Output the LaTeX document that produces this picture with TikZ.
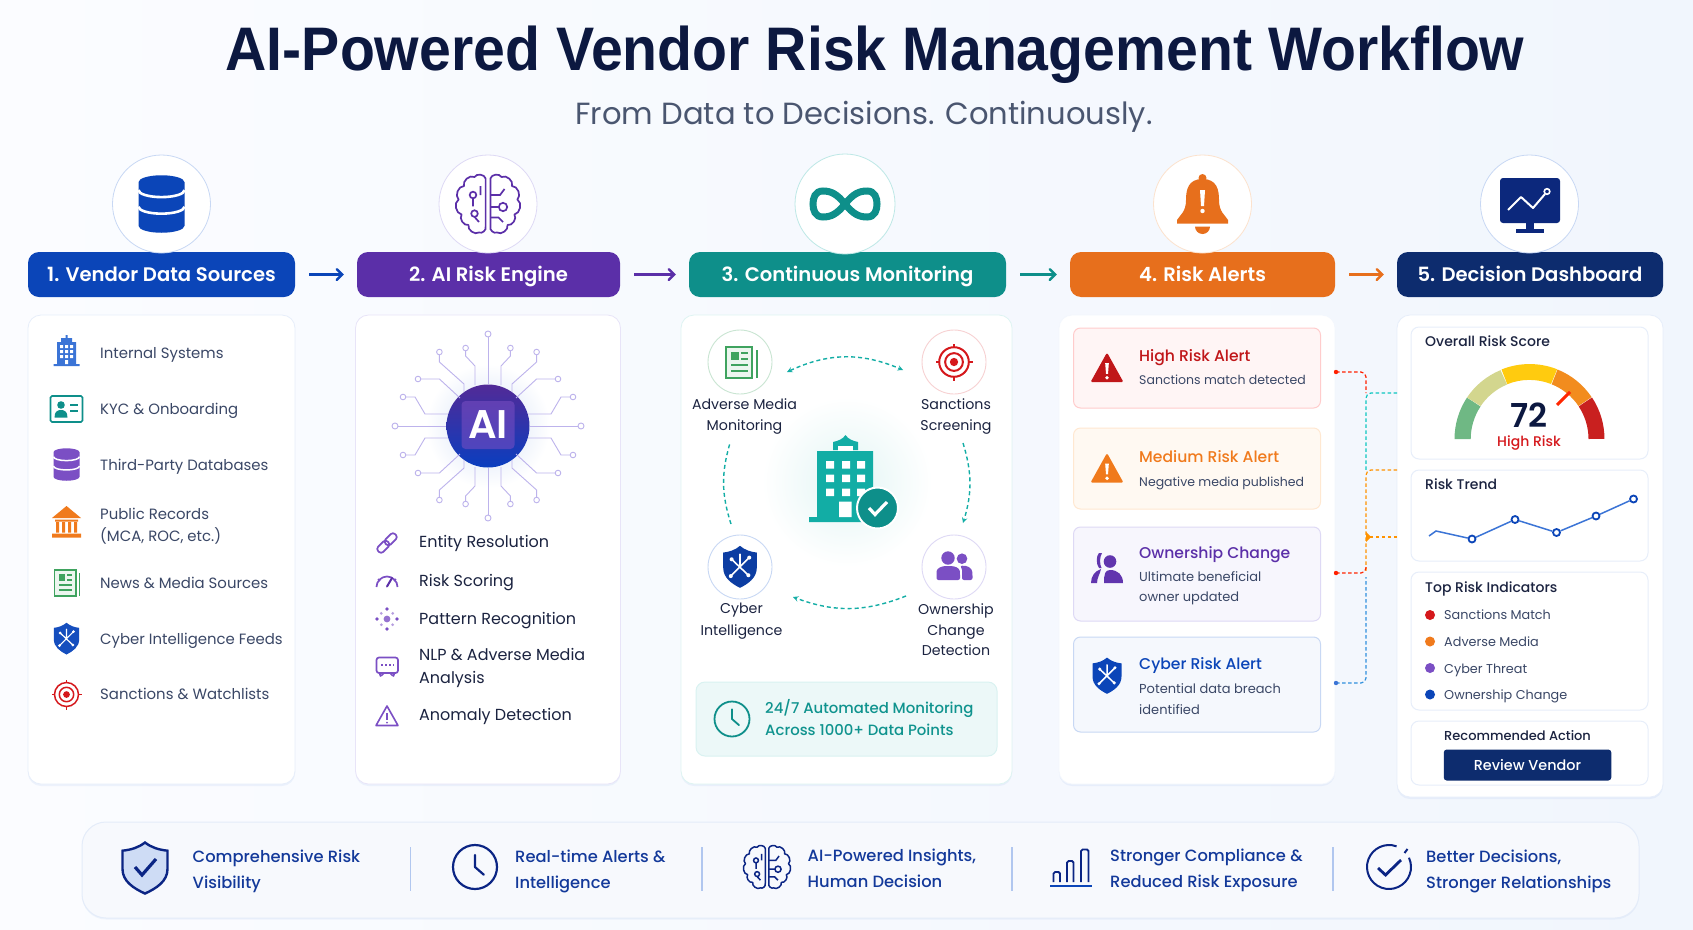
\documentclass[tikz,border=0pt]{standalone}
\usepackage{fontspec}
\setmainfont{Poppins}
\newfontfamily\medfont{Poppins Medium}
\newfontfamily\semifont{Poppins SemiBold}
\newfontfamily\titlefont{Liberation Sans}
\usetikzlibrary{arrows,positioning,shadows}

\definecolor{ink}{HTML}{0C1840}
\definecolor{subink}{HTML}{4A5670}
\definecolor{bodyink}{HTML}{3A4766}
\definecolor{darkink}{HTML}{1B2340}
\definecolor{vblue}{HTML}{0B45B8}
\definecolor{vpurple}{HTML}{5B2FA8}
\definecolor{vteal}{HTML}{0E8F8A}
\definecolor{vorange}{HTML}{E76F1C}
\definecolor{vnavy}{HTML}{0D2C6E}
\definecolor{sky}{HTML}{3B74D6}
\definecolor{lilac}{HTML}{7B4FC4}
\definecolor{lavender}{HTML}{BDB3EC}
\definecolor{tealb}{HTML}{12ADA5}
\definecolor{alarm}{HTML}{D5181C}
\definecolor{amber}{HTML}{F07A1C}
\definecolor{leaf}{HTML}{3FA35F}
\definecolor{bandink}{HTML}{13399A}
\definecolor{bgleft}{HTML}{FBFCFF}
\definecolor{bgright}{HTML}{F1F6FD}
\definecolor{gaugeg}{HTML}{6FB884}
\definecolor{gaugek}{HTML}{D3D68E}
\definecolor{gaugey}{HTML}{FFCB0F}
\definecolor{gaugeo}{HTML}{F28C1E}
\definecolor{gauger}{HTML}{C9201F}

\newcommand{\fsz}[2]{\fontsize{#1}{#2}\selectfont}
\newcommand{\shieldpath}{(0,-12) .. controls (3,-9.5) and (6,-8.5) .. (10,-8) -- (10,1) .. controls (10,7) and (5,10.5) .. (0,13) .. controls (-5,10.5) and (-10,7) .. (-10,1) -- (-10,-8) .. controls (-6,-8.5) and (-3,-9.5) .. (0,-12) -- cycle}

\tikzset{
	x=1pt,y=-1pt,
	headbox/.style={rounded corners=11pt,inner sep=0pt,minimum height=45pt,text=white,text height=14pt,text depth=0pt,font=\semifont\fsz{19.6}{20}},
	ringbox/.style={circle,fill=white,draw=#1,line width=.8pt,inner sep=0pt,minimum size=98pt},
	card/.style={rounded corners=13pt,fill=white,draw=#1,line width=.8pt,inner sep=0pt,
		drop shadow={shadow xshift=0pt,shadow yshift=-2pt,fill=sky,opacity=.07}},
	flow/.style={->,>=angle 90,line width=2.4pt,shorten <=14pt,shorten >=13pt},
	srctext/.style={anchor=west,inner sep=0pt,align=left,text=bodyink,font=\fsz{14.9}{21.5}},
	oneline/.style={text height=10pt,text depth=0pt},
	enginetext/.style={anchor=west,inner sep=0pt,align=left,text=darkink,font=\fsz{16}{22.5}},
	looptext/.style={inner sep=0pt,align=center,text=darkink,font=\fsz{14.2}{20.5}},
	loopdisc/.style={circle,fill=white,draw=#1,line width=.9pt,inner sep=0pt,minimum size=64pt},
	loopline/.style={draw=tealb,line width=1.4pt,dash pattern=on 4pt off 3pt,>=stealth},
	alertbox/.style 2 args={rounded corners=7pt,fill=#1,draw=#2,line width=1pt,inner sep=0pt,minimum width=247pt},
	alerthead/.style={anchor=west,inner sep=0pt,text=#1,text height=11pt,text depth=0pt,font=\medfont\fsz{15.6}{20}},
	alerttext/.style={anchor=west,inner sep=0pt,align=left,text=bodyink,font=\fsz{13}{20.5}},
	wire/.style={draw=#1,line width=1.2pt,dash pattern=on 3.5pt off 2.5pt,rounded corners=5pt},
	panel/.style={rounded corners=8pt,fill=white,draw=sky!12,line width=1pt,inner sep=0pt,minimum width=237pt},
	paneltext/.style={anchor=west,inner sep=0pt,text=darkink,oneline,font=\medfont\fsz{14}{14}},
	riskdot/.style={circle,fill=#1,inner sep=0pt,minimum size=10pt},
	risktext/.style={anchor=west,inner sep=0pt,text=bodyink,oneline,font=\fsz{12.8}{14}},
	trendpt/.style={circle,fill=white,draw=vblue,line width=1.8pt,inner sep=0pt,minimum size=7pt},
	bandtext/.style={anchor=west,inner sep=0pt,align=left,text=bandink,font=\medfont\fsz{16.3}{26}},
	pics/dbicon/.style 2 args={code={
		\fill[#1] (-10,-9.5) -- (-10,9.5) arc[start angle=180,end angle=0,x radius=10,y radius=3] -- (10,-9.5) arc[start angle=0,end angle=-180,x radius=10,y radius=3] -- cycle;
		\draw[white,line width=#2] (-10,-6) arc[start angle=180,end angle=0,x radius=10,y radius=3];
		\draw[white,line width=#2] (-10,1.2) arc[start angle=180,end angle=0,x radius=10,y radius=3];
	}},
	pics/brainicon/.style 2 args={code={
		\draw[#1,line width=#2,line join=round] (-.8,-8.5) to[bend right=70] (-4.5,-9) to[bend right=70] (-8,-6) to[bend right=70] (-9.8,-1.5) to[bend right=70] (-8.8,3.5) to[bend right=70] (-6.5,7) to[bend right=70] (-3,9.5) to[bend right=70] (-.8,7.5) -- cycle;
		\draw[#1,line width=#2,line join=round] (.8,7.5) to[bend right=70] (3,9.5) to[bend right=70] (6.5,7) to[bend right=70] (8.8,3.5) to[bend right=70] (9.8,-1.5) to[bend right=70] (8,-6) to[bend right=70] (4.5,-9) to[bend right=70] (.8,-8.5) -- cycle;
		\draw[#1,line width=#2] (-5,-3) circle[radius=1.1] (-4.5,3.2) circle[radius=1.1] (-5,-1.9) -- (-5,.8) (-4.5,4.3) -- (-3,6) (-2.5,-6) -- (-2.5,-3);
		\draw[#1,line width=#2] (.8,-3) -- (4,-3) -- (5.5,-5) (.8,1) -- (3.5,1) (5,1) circle[radius=1.4] (.8,4.5) -- (3.5,4.5) -- (5,6);
	}},
	pics/clockicon/.style 2 args={code={
		\draw[#1,line width=#2] (0,0) circle[radius=10];
		\draw[#1,line width=#2,line cap=round,line join=round] (0,-5.5) -- (0,0) -- (4,3.5);
	}},
	pics/newsicon/.style 2 args={code={
		\draw[#1,fill=#1!10,line width=#2] (-8,-9) rectangle (7,9);
		\draw[#1,line width=#2] (9.6,-7) -- (9.6,9);
		\fill[#1] (-5,-6) rectangle (-.8,-1.5);
		\draw[#1,line width=#2] (.8,-5.5) -- (4.5,-5.5) (.8,-2) -- (4.5,-2) (-5,1.5) -- (4.5,1.5) (-5,5) -- (4.5,5);
	}},
	pics/shieldicon/.style 2 args={code={
		\fill[#1] \shieldpath;
		\draw[white,line width=#2,line cap=round] (-5.5,6) -- (5.5,-5) (-5,-4) -- (5,5.5) (0,.5) -- (0,-7);
		\fill[white] (-5.5,6) circle[radius=1.2] (5.5,-5) circle[radius=1.2] (-5,-4) circle[radius=1.2] (5,5.5) circle[radius=1.2];
	}},
	pics/targeticon/.style 2 args={code={
		\draw[#1,line width=#2] (0,0) circle[radius=10] (0,0) circle[radius=6];
		\fill[#1] (0,0) circle[radius=2.8];
		\draw[#1,line width=#2] (0,-10) -- (0,-12.5) (0,10) -- (0,12.5) (-10,0) -- (-12.5,0) (10,0) -- (12.5,0);
	}},
	pics/warnicon/.style={code={
		\fill[#1,rounded corners=1.5pt] (0,-10) -- (10,8) -- (-10,8) -- cycle;
		\fill[white] (-1.1,-3.5) -- (1.1,-3.5) -- (.6,3) -- (-.6,3) -- cycle (0,5.3) circle[radius=1.2];
	}},
}

\begin{document}
\begin{tikzpicture}

\useasboundingbox (0,0) rectangle (1693,929);
\shade[left color=bgleft,right color=bgright] (0,0) rectangle (1693,929);

% TITLE
\node[inner sep=0pt,text=ink,text height=44pt,text depth=0pt,xscale=.93,transform shape,font=\titlefont\bfseries\fsz{61.5}{62}] (title) at (875,48) {AI-Powered Vendor Risk Management Workflow};
\node[inner sep=0pt,text=subink,text height=22pt,text depth=0pt,font=\fsz{30.6}{32}] (subtitle) at (864,113.5) {From Data to Decisions. Continuously.};

% HEADERS
\node[headbox,fill=vblue,minimum width=267pt] (h1) at (161.5,274.5) {1. Vendor Data Sources};
\node[headbox,fill=vpurple,minimum width=263pt] (h2) at (488.5,274.5) {2. AI Risk Engine};
\node[headbox,fill=vteal,minimum width=317pt] (h3) at (847.5,274.5) {3. Continuous Monitoring};
\node[headbox,fill=vorange,minimum width=265pt] (h4) at (1202.5,274.5) {4. Risk Alerts};
\node[headbox,fill=vnavy,minimum width=266pt] (h5) at (1530,274.5) {5. Decision Dashboard};
\draw[flow,draw=vblue] (h1) -- (h2);
\draw[flow,draw=vpurple] (h2) -- (h3);
\draw[flow,draw=vteal] (h3) -- (h4);
\draw[flow,draw=vorange] (h4) -- (h5);

\node[ringbox=sky!28] (r1) at (161.5,204) {};
\node[ringbox=lavender!50] (r2) at (488,204) {};
\node[ringbox=tealb!28,minimum size=100pt] (r3) at (845,204) {};
\node[ringbox=amber!22] (r4) at (1202.5,204) {};
\node[ringbox=sky!28] (r5) at (1529.5,204) {};

\pic[scale=2.3] at (161.5,204) {dbicon={vblue}{2.6}};
\pic[scale=3] at (488,204) {brainicon={vpurple}{1.7}};
\draw[vteal,line width=7pt] (845,204) .. controls (853,194) and (859,191) .. (867,191) .. controls (875,191) and (877,198) .. (877,204) .. controls (877,210) and (875,217) .. (867,217) .. controls (859,217) and (853,214) .. (845,204) .. controls (837,194) and (831,191) .. (823,191) .. controls (815,191) and (813,198) .. (813,204) .. controls (813,210) and (815,217) .. (823,217) .. controls (831,217) and (837,214) .. (845,204) -- cycle;
% bell
\fill[vorange] (1202.5,178) circle[radius=4];
\fill[vorange] (1202.5,179) .. controls (1188,179) and (1186,190) .. (1186,200) .. controls (1186,212) and (1180,215) .. (1177,220) -- (1177,223.5) -- (1228,223.5) -- (1228,220) .. controls (1225,215) and (1219,212) .. (1219,200) .. controls (1219,190) and (1217,179) .. (1202.5,179) -- cycle;
\fill[vorange] (1195,226.5) arc[start angle=180,end angle=0,radius=7.5];
\fill[white] (1200,190) -- (1205,190) -- (1204,206) -- (1201,206) -- cycle (1202.5,211) circle[radius=2.2];
% monitor
\fill[vnavy!90!blue,rounded corners=3pt] (1500,178) rectangle (1560,223);
\fill[vnavy!90!blue] (1526,223) rectangle (1534,230);
\fill[vnavy!90!blue] (1516,229) rectangle (1544,233);
\draw[white,line width=2pt,line join=round] (1508,210) -- (1521,197) -- (1533,208) -- (1545,194);
\draw[white,line width=1.6pt] (1547,191.5) circle[radius=2.8];

% CARDS
\node[card=sky!12,minimum width=267pt,minimum height=469pt] (c1) at (161.5,549.5) {};
\node[card=lavender!35,minimum width=265pt,minimum height=469pt] (c2) at (488,549.5) {};
\node[card=tealb!14,minimum width=331pt,minimum height=469pt] (c3) at (846.5,549.5) {};
\node[card=sky!6,minimum width=276pt,minimum height=469pt] (c4) at (1197,549.5) {};
\node[card=sky!12,minimum width=266pt,minimum height=482pt] (c5) at (1530,556) {};

% COLUMN 1
\node[srctext,oneline] (s1) at (100,353) {Internal Systems};
\node[srctext,oneline] (s2) at (100,409) {KYC \& Onboarding};
\node[srctext,oneline] (s3) at (100,465) {Third-Party Databases};
\node[srctext] (s4) at (100,526) {Public Records\\(MCA, ROC, etc.)};
\node[srctext,oneline] (s5) at (100,583) {News \& Media Sources};
\node[srctext,oneline] (s6) at (100,639) {Cyber Intelligence Feeds};
\node[srctext,oneline] (s7) at (100,694) {Sanctions \& Watchlists};
% building
\fill[sky] (57,342) rectangle (76,364) (61,338) rectangle (72,342) (65.5,335) rectangle (67.5,338) (53.5,364) rectangle (79.5,366);
\fill[white] (60,345) rectangle (63,348) (65,345) rectangle (68,348) (70,345) rectangle (73,348)
	(60,350) rectangle (63,353) (65,350) rectangle (68,353) (70,350) rectangle (73,353)
	(60,355) rectangle (63,358) (65,355) rectangle (68,358) (70,355) rectangle (73,358)
	(65,360) rectangle (68,364);
% id card
\draw[vteal,line width=1.6pt,rounded corners=1.5pt] (50.5,396) rectangle (82.5,422);
\fill[vteal] (61,405) circle[radius=3.8];
\fill[vteal] (54.5,417.5) .. controls (54.5,411) and (58,410) .. (61,410) .. controls (64,410) and (67.5,411) .. (67.5,417.5) -- cycle;
\draw[vteal,line width=1.6pt] (70,405) -- (78,405) (70,411) -- (78,411);
\pic[scale=1.3] at (66.5,464.5) {dbicon={lilac}{1.5}};
% bank
\fill[amber] (66.5,506) -- (81,518) -- (52,518) -- cycle (55,519.5) rectangle (78,521.5) (52,533.5) rectangle (81,537.5)
	(56,522) rectangle (59,532.5) (62,522) rectangle (65,532.5) (68,522) rectangle (71,532.5) (74,522) rectangle (77,532.5);
\pic[scale=1.42] at (66,583) {newsicon={leaf}{1.7}};
\pic[scale=1.27] at (66.5,638) {shieldicon={vblue!80!sky}{1.2}};
\pic[scale=1.2] at (66.5,694.5) {targeticon={alarm}{1.5}};

% COLUMN 2
\shade[inner color=sky!22,outer color=white] (488,426) circle[radius=62];
\node[circle,inner sep=0pt,minimum size=83pt,top color=vpurple!90!black,bottom color=vblue!90!blue] (ai) at (488,426) {};
\node[rounded corners=4pt,fill=lilac,fill opacity=.55,text opacity=1,text=white,inner sep=0pt,minimum width=53pt,minimum height=48pt,font=\semifont\fsz{40}{40}] (aitxt) at (488,425) {AI};
\foreach \sx/\sy in {1/1,-1/1,1/-1,-1/-1} {
	\begin{scope}[shift={(488,426)},xscale=\sx,yscale=\sy,draw=lavender,line width=.9pt]
		\draw (22.4,-75) -- (22.4,-70) -- (13,-60) -- (13,-41);
		\draw (48.6,-71) -- (48.6,-64) -- (24,-42) -- (24,-34);
		\draw (67,-47) -- (48.6,-47) -- (28,-28);
		\draw (82,-29) -- (73,-29) -- (63,-12) -- (40,-12);
		\draw[fill=white] (22.4,-78) circle[radius=2.8] (48.6,-74) circle[radius=2.8] (70,-47) circle[radius=2.8] (85,-29) circle[radius=2.8];
	\end{scope}
}
\draw[lavender,line width=.9pt,fill=white] (488,334) circle[radius=3] (488,518) circle[radius=3] (395,426) circle[radius=3] (581,426) circle[radius=3];
\draw[lavender,line width=.9pt] (488,337) -- (ai) (488,515) -- (ai) (398,426) -- (ai) (578,426) -- (ai);
\node[enginetext,oneline] (e1) at (419,542.7) {Entity Resolution};
\node[enginetext,oneline] (e2) at (419,581) {Risk Scoring};
\node[enginetext,oneline] (e3) at (419,619) {Pattern Recognition};
\node[enginetext] (e4) at (419,668) {NLP \& Adverse Media\\Analysis};
\node[enginetext,oneline] (e5) at (419,715.7) {Anomaly Detection};
% link
\begin{scope}[shift={(387,543)},rotate=45,draw=lilac,line width=1.7pt,rounded corners=3pt]
	\draw (-12,-3.6) rectangle (1.5,3.6);
	\draw (-1.5,-3.6) rectangle (12,3.6);
\end{scope}
% gauge
\draw[lilac,line width=1.7pt] (376.5,587) arc[start angle=-180,end angle=0,radius=10.5];
\draw[lilac,line width=1.7pt] (378,579) -- (380,581) (396,579) -- (394,581);
\draw[vpurple,line width=2pt,line cap=round] (387,586.5) -- (392,578);
% pattern
\fill[lilac!80] (387,619) circle[radius=3.4];
\foreach \a in {0,90,180,270} \fill[lilac] (387,619) ++(\a:10) circle[radius=1.9];
\foreach \a in {45,135,225,315} \fill[lilac!55] (387,619) ++(\a:8) circle[radius=1.5];
% chat
\draw[lilac,line width=1.7pt,rounded corners=2.5pt] (376.5,657.5) rectangle (398,673) (380,673) -- (380,677) -- (384,673) (394,673) -- (394,677) -- (390,673);
\draw[lilac,line width=1.3pt,dash pattern=on 2pt off 2pt] (381,665) -- (394,665);
% triangle
\draw[lilac,line width=1.6pt,line join=round] (387,706) -- (398,725.5) -- (376,725.5) -- cycle;
\draw[lilac,line width=1.6pt] (387,713) -- (387,720);
\fill[lilac] (387,722.6) circle[radius=1];

% COLUMN 3
\shade[inner color=tealb!12,outer color=white] (847,482) circle[radius=85];
\node[loopdisc=leaf!28] (m1) at (740,362) {};
\node[loopdisc=alarm!20] (m2) at (954,362) {};
\node[loopdisc=sky!28] (m3) at (740,567) {};
\node[loopdisc=lavender!50] (m4) at (954,567) {};
\node[looptext] (m1t) at (744.5,416.5) {Adverse Media\\Monitoring};
\node[looptext] (m2t) at (956,416.5) {Sanctions\\Screening};
\node[looptext] (m3t) at (741.5,621) {Cyber\\[1.5pt]Intelligence};
\node[looptext] (m4t) at (956,630) {Ownership\\Change\\Detection};
\pic[scale=1.75] at (740,362.5) {newsicon={leaf}{1.8}};
\pic[scale=1.48] at (954,362) {targeticon={alarm}{2}};
\pic[scale=1.68] at (740,566) {shieldicon={vblue!70!vnavy}{1.6}};
% people
\fill[lilac] (962,558.7) circle[radius=5.3] (948,558) circle[radius=6.7];
\fill[lilac,rounded corners=2pt] (936.5,580) -- (936.5,573) .. controls (937,568) and (942,566) .. (948,566) .. controls (955,566) and (959.5,568) .. (960,573) -- (960,580) -- cycle;
\fill[lilac,rounded corners=2pt] (962,580) -- (962,572) .. controls (962,569) and (961,567.5) .. (960,566) .. controls (967,565) and (972,568) .. (972.5,574) -- (972.5,580) -- cycle;
% loop arrows
\coordinate (l1) at (787,372);
\coordinate (l2) at (903,370);
\coordinate (l3) at (963,443);
\coordinate (l4) at (963,523);
\coordinate (l5) at (906,596);
\coordinate (l6) at (793,597);
\coordinate (l7) at (731,524);
\coordinate (l8) at (730,443);
\draw[loopline,<->] (l1) to[bend left=24] (l2);
\draw[loopline,->] (l3) to[bend left=17] (l4);
\draw[loopline,->] (l5) to[bend left=21] (l6);
\draw[loopline] (l7) to[bend left=17] (l8);
% center building
\fill[tealb] (833,450) -- (833,442) .. controls (838,441) and (843,439) .. (845.5,435) .. controls (848,439) and (853,441) .. (858,442) -- (858,450) -- cycle;
\fill[white] (838,451) -- (838,446) -- (853,446) -- (853,451) -- cycle;
\fill[tealb] (817,451) rectangle (873,520) (809,517) rectangle (873,522);
\fill[white] (826,461) rectangle (834,468.5) (842,461) rectangle (850,468.5) (857,461) rectangle (865,468.5)
	(826,474.5) rectangle (834,482) (842,474.5) rectangle (850,482) (857,474.5) rectangle (865,482)
	(826,488.5) rectangle (834,496) (842,488.5) rectangle (850,496) (857,488.5) rectangle (865,496)
	(839,501.5) rectangle (851.5,517);
\node[circle,fill=vteal,draw=white,line width=2pt,inner sep=0pt,minimum size=41pt] (okdisc) at (877.5,508) {};
\draw[white,line width=3.2pt] (869,508) -- (875,514.5) -- (887,502);
% monitoring box
\node[rounded corners=9pt,fill=tealb!8,draw=tealb!16,line width=1pt,inner sep=0pt,minimum width=301pt,minimum height=74pt] (mbox) at (846.5,719) {};
\pic[scale=1.75] at (732,719) {clockicon={vteal}{1.8}};
\node[anchor=west,inner sep=0pt,align=left,text=vteal!85!tealb,font=\medfont\fsz{14.9}{22}] (mtxt) at (765,718) {24/7 Automated Monitoring\\Across 1000+ Data Points};

% COLUMN 4
\node[alertbox={red!4}{red!20},minimum height=80pt] (a1) at (1197,368) {};
\node[alertbox={orange!5}{orange!18},minimum height=81pt] (a2) at (1197,468.5) {};
\node[alertbox={lavender!12}{lavender!50},minimum height=94pt] (a3) at (1197,574) {};
\node[alertbox={sky!5}{sky!28},minimum height=95pt] (a4) at (1197,684.5) {};
\pic[scale=1.65] at (1107,369) {warnicon=alarm!90!black};
\pic[scale=1.65] at (1107,469.5) {warnicon=amber};
\node[alerthead=alarm!90!black] (a1h) at (1139,356) {High Risk Alert};
\node[alerttext,oneline,font=\fsz{12.5}{14}] (a1t) at (1139,379) {Sanctions match detected};
\node[alerthead=amber] (a2h) at (1139,457) {Medium Risk Alert};
\node[alerttext,oneline,font=\fsz{12.5}{14}] (a2t) at (1139,481) {Negative media published};
\node[alerthead=vpurple] (a3h) at (1139,553) {Ownership Change};
\node[alerttext] (a3t) at (1139,588) {Ultimate beneficial\\owner updated};
\node[alerthead=vblue] (a4h) at (1139,664) {Cyber Risk Alert};
\node[alerttext] (a4t) at (1139,699) {Potential data breach\\identified};
% person
\fill[vpurple!80!lilac] (1110,561.5) circle[radius=6.3];
\fill[vpurple!80!lilac] (1099,553) .. controls (1096,556) and (1096,564) .. (1099,568) -- (1101.5,568) .. controls (1099.5,564) and (1099.5,557) .. (1102,553) -- cycle;
\fill[vpurple!80!lilac] (1104,583) .. controls (1104,574) and (1105,570) .. (1110,570) .. controls (1118,570) and (1123,575) .. (1123,583) -- cycle;
\fill[vpurple!80!lilac] (1091,583) .. controls (1091,576) and (1095,571) .. (1101,569) .. controls (1100,574) and (1097,578) .. (1097,583) -- cycle;
\pic[scale=1.45] at (1107,675) {shieldicon={vblue}{1.5}};
% wires
\coordinate (o1) at (1336,372);
\coordinate (o3) at (1336,573);
\coordinate (o4) at (1336,683);
\coordinate (w1) at (1366,393);
\coordinate (w2) at (1366,470);
\coordinate (w3) at (1366,573);
\coordinate (w4) at (1366,537);
\coordinate (w5) at (1366,577);
\coordinate (w6) at (1366,566);
\coordinate (q1) at (1397,393);
\coordinate (q2) at (1397,470);
\coordinate (q3) at (1397,537);
\draw[wire=tealb!70!cyan] (q1) -- (w1) -- (w2);
\draw[wire=orange!85!yellow] (q2) -- (w2) -- (w3);
\draw[wire=orange!85!yellow] (q3) -- (w4);
\fill[orange!85!yellow] (1366,532) -- (1371,537) -- (1366,542) -- cycle;
\draw[wire=red!75!orange] (o1) -| (w1);
\draw[wire=red!70!orange] (o3) -| (w6);
\draw[wire=sky!80!cyan] (o4) -| (w5);
\fill[red!75!orange] (o1) circle[radius=2.2] (o3) circle[radius=2.2];
\fill[sky] (o4) circle[radius=2.2];

% COLUMN 5
\node[panel,minimum height=132pt] (p1) at (1529.5,393) {};
\node[panel,minimum height=91pt] (p2) at (1529.5,515.5) {};
\node[panel,minimum height=138pt] (p3) at (1529.5,641) {};
\node[panel,minimum height=64pt] (p4) at (1529.5,753) {};
\node[paneltext] (p1t) at (1425,341) {Overall Risk Score};
\node[paneltext] (p2t) at (1425,484) {Risk Trend};
\node[paneltext] (p3t) at (1425,587) {Top Risk Indicators};
\node[paneltext,font=\medfont\fsz{13}{14}] (p4t) at (1444,735) {Recommended Action};
% gauge
\begin{scope}[shift={(1529.5,439)}]
	\fill[gaugeg] (-75,0) arc[start angle=-180,end angle=-146.5,radius=75] -- (-49,-32.5) arc[start angle=-146.5,end angle=-180,radius=59] -- cycle;
	\fill[gaugek] (-62.5,-41.5) arc[start angle=-146,end angle=-112.5,radius=75] -- (-22.5,-54.5) arc[start angle=-112.5,end angle=-146,radius=59] -- cycle;
	\fill[gaugey] (-28,-69.5) arc[start angle=-112,end angle=-68.5,radius=75] -- (21.5,-55) arc[start angle=-68.5,end angle=-112,radius=59] -- cycle;
	\fill[gaugeo] (28,-69.5) arc[start angle=-68,end angle=-34,radius=75] -- (49,-33) arc[start angle=-34,end angle=-68,radius=59] -- cycle;
	\fill[gauger] (62.5,-41.5) arc[start angle=-33.5,end angle=0,radius=75] -- (59,0) arc[start angle=0,end angle=-33.5,radius=59] -- cycle;
\end{scope}
\draw[red!70!orange,line width=3pt] (1557,405) -- (1570,392);
\node[inner sep=0pt,text=ink,font=\semifont\fsz{33}{33}] (score) at (1529,415) {72};
\node[inner sep=0pt,text=alarm,font=\medfont\fsz{14}{14}] (scoret) at (1529,443) {High Risk};
% trend
\coordinate (t0) at (1429,536);
\coordinate (t1) at (1436,531);
\node[trendpt] (t2) at (1472,539) {};
\node[trendpt] (t3) at (1515,519.5) {};
\node[trendpt] (t4) at (1556.5,532.5) {};
\node[trendpt] (t5) at (1596,516) {};
\node[trendpt] (t6) at (1633.5,499) {};
\draw[sky,line width=1.5pt] (t0) -- (t1) -- (t2) -- (t3) -- (t4) -- (t5) -- (t6);
% indicators
\node[riskdot=alarm] (d1) at (1430,615) {};
\node[riskdot=amber] (d2) at (1430,641.5) {};
\node[riskdot=lilac] (d3) at (1430,668) {};
\node[riskdot=vblue] (d4) at (1430,694.5) {};
\node[risktext] (d1t) at (1444,614.5) {Sanctions Match};
\node[risktext] (d2t) at (1444,641) {Adverse Media};
\node[risktext] (d3t) at (1444,668) {Cyber Threat};
\node[risktext] (d4t) at (1444,694.5) {Ownership Change};
\node[rounded corners=3pt,fill=vnavy,text=white,inner sep=0pt,minimum width=167.5pt,minimum height=31pt,font=\medfont\fsz{14.4}{15}] (btn) at (1527.5,765) {Review Vendor};

% BENEFITS
\node[rounded corners=24pt,fill=sky!4,draw=sky!14,line width=1pt,inner sep=0pt,minimum width=1557pt,minimum height=96pt,
	drop shadow={shadow xshift=0pt,shadow yshift=-1.5pt,fill=sky,opacity=.06}] (band) at (860.5,870) {};
\begin{scope}[shift={(145,867)},xscale=2.25,yscale=2.04]
	\draw[fill=sky!25,draw=vnavy!85!blue,line width=2.4pt] \shieldpath;
\end{scope}
\draw[vnavy!85!blue,line width=3.2pt] (135,867) -- (142,875) -- (156,859);
\pic[scale=2.2] at (475,867) {clockicon={vnavy!85!blue}{2.2}};
\pic[scale=2.2] at (767,867) {brainicon={vnavy!85!blue}{1.5}};
\draw[vnavy!85!blue,line width=1.8pt,rounded corners=1.5pt] (1053.5,882) -- (1053.5,872) -- (1060,872) -- (1060,882) (1067,882) -- (1067,861) -- (1073.5,861) -- (1073.5,882) (1081,882) -- (1081,849.5) -- (1088.5,849.5) -- (1088.5,882);
\draw[vblue,line width=2.2pt] (1050,886) -- (1092,886);
\draw[vnavy!85!blue,line width=2pt] (1389,867) ++(-70:22) arc[start angle=-70,end angle=-385,radius=22];
\draw[vnavy!85!blue,line width=2pt] (1404.5,853) -- (1407.5,849);
\draw[vnavy!85!blue,line width=2.8pt] (1378,868) -- (1385.5,875) -- (1401,860);
\draw[sky!40,line width=1.2pt] (410.5,847) -- (410.5,891) (702,847) -- (702,891) (1012,847) -- (1012,891) (1333,847) -- (1333,891);
\node[bandtext] (b1) at (192.5,871) {Comprehensive Risk\\Visibility};
\node[bandtext] (b2) at (515,871) {Real-time Alerts \&\\Intelligence};
\node[bandtext] (b3) at (807.5,868.5) {AI-Powered Insights,\\Human Decision};
\node[bandtext] (b4) at (1110,870) {Stronger Compliance \&\\Reduced Risk Exposure};
\node[bandtext] (b5) at (1426,871) {Better Decisions,\\Stronger Relationships};

\end{tikzpicture}
\end{document}
